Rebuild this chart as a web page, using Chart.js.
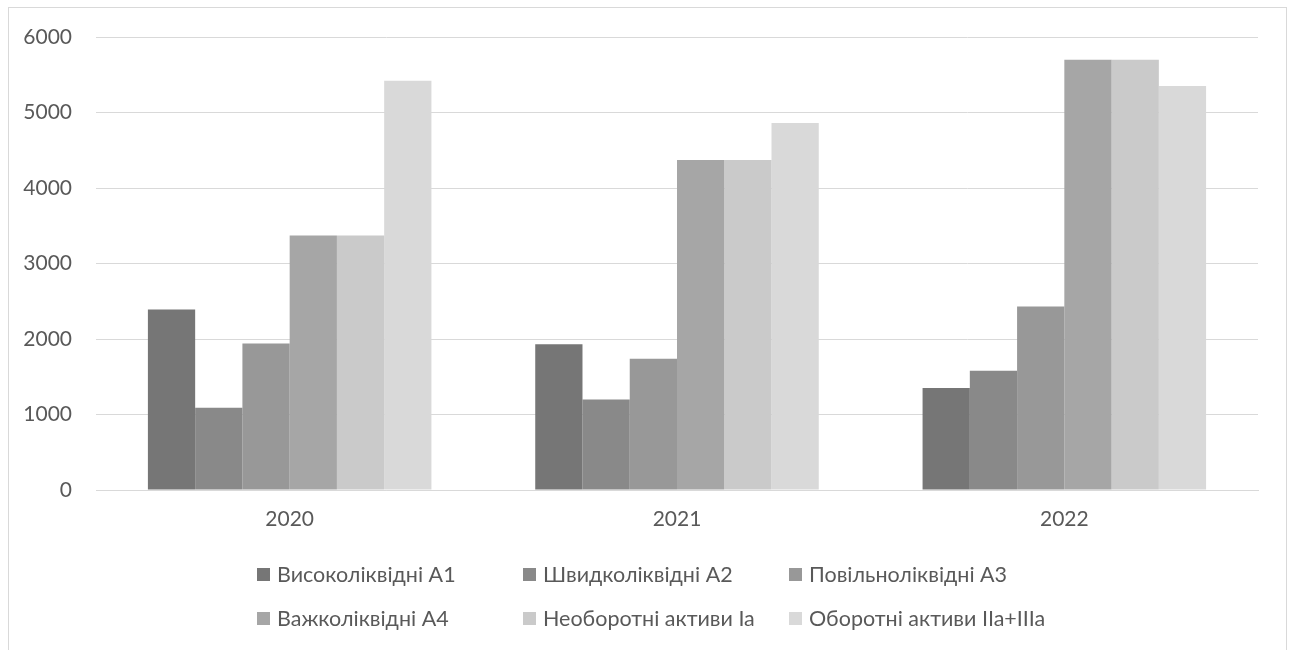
<!DOCTYPE html>
<html>
<head>
<meta charset="utf-8">
<script src="https://cdn.jsdelivr.net/npm/chart.js@4/dist/chart.umd.min.js"></script>
<style>
  html, body { margin: 0; padding: 0; background: #ffffff; }
  #frame {
    position: absolute; left: 8px; top: 7px; width: 1279px; height: 700px;
    box-sizing: border-box; border: 1px solid #d9d9d9;
  }
  #chart { position: absolute; left: 0; top: 0; }
</style>
</head>
<body>
<div id="frame"></div>
<canvas id="chart" width="1294" height="650"></canvas>
<script>
// Years on the category axis
const years = ['2020', '2021', '2022'];

// Asset groups by liquidity, thousand UAH
const highLiquidA1 = [2390, 1930, 1350];
const fastLiquidA2 = [1090, 1200, 1580];
const slowLiquidA3 = [1940, 1740, 2430];
const hardLiquidA4 = [3370, 4370, 5700];
const nonCurrentIa = [3370, 4370, 5700];
const currentIIaIIIa = [5420, 4860, 5350];

const seriesNames = [
  'Високоліквідні А1',
  'Швидколіквідні А2',
  'Повільноліквідні А3',
  'Важколіквідні А4',
  'Необоротні активи Ia',
  'Оборотні активи IIa+IIIa'
];
const seriesValues = [highLiquidA1, fastLiquidA2, slowLiquidA3, hardLiquidA4, nonCurrentIa, currentIIaIIIa];
const seriesColors = ['#767676', '#898989', '#989898', '#a6a6a6', '#cacaca', '#d9d9d9'];

const yTicks = [0, 1000, 2000, 3000, 4000, 5000, 6000];

const FONT = 'Lato';
const TEXT = '#595959';

// Legend laid out in equal-width columns, two rows of three
const columnLegend = {
  id: 'columnLegend',
  afterDraw(chart) {
    const ctx = chart.ctx;
    const ds = chart.data.datasets;
    const perRow = 3, colW = 266, box = 13, gap = 7;
    const x0 = chart.chartArea.left + 161;
    const rowY = [575, 619];
    ctx.save();
    ctx.font = '21.5px ' + FONT;
    ctx.textBaseline = 'middle';
    ctx.textAlign = 'left';
    ds.forEach((d, i) => {
      const col = i % perRow, row = Math.floor(i / perRow);
      const x = x0 + col * colW, y = rowY[row];
      ctx.fillStyle = d.backgroundColor;
      ctx.fillRect(x, y - 7, box, box);
      ctx.fillStyle = TEXT;
      ctx.fillText(d.label, x + box + gap, y);
    });
    ctx.restore();
  }
};

new Chart(document.getElementById('chart'), {
  type: 'bar',
  data: {
    labels: years,
    datasets: seriesNames.map((name, i) => ({
      label: name,
      data: seriesValues[i],
      backgroundColor: seriesColors[i],
      borderWidth: 0,
      barPercentage: 1,
      categoryPercentage: 0.732
    }))
  },
  options: {
    responsive: false,
    animation: false,
    layout: { padding: { left: 0, right: 36, top: 37, bottom: 0 } },
    plugins: {
      legend: { display: false },
      tooltip: { enabled: false }
    },
    scales: {
      x: {
        grid: { display: false, drawTicks: false },
        border: { display: true, color: '#d9d9d9', width: 1 },
        ticks: { color: TEXT, font: { family: FONT, size: 21 }, padding: 17 },
        afterFit(s) { s.height = 160; }
      },
      y: {
        min: 0,
        max: 6000,
        afterBuildTicks(s) { s.ticks = yTicks.map(v => ({ value: v })); },
        grid: { color: '#d9d9d9', lineWidth: 1, drawTicks: false },
        border: { display: false },
        ticks: {
          color: TEXT,
          font: { family: FONT, size: 21 },
          padding: 24,
          callback: v => String(v)
        },
        afterFit(s) { s.width = 96; }
      }
    }
  },
  plugins: [columnLegend]
});
</script>
</body>
</html>
